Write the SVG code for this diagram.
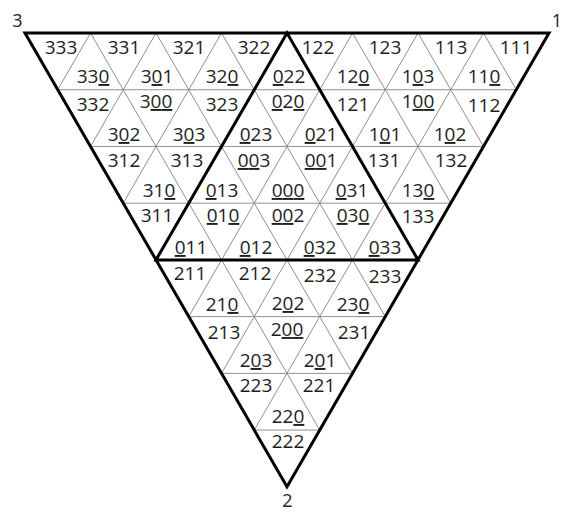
<svg xmlns="http://www.w3.org/2000/svg" width="563" height="512" viewBox="0 0 563 512">
<style>
.thin{stroke:#909090;stroke-width:1;fill:none}
.thick{stroke:#000;stroke-width:3;fill:none;stroke-linejoin:miter}
text{font-family:"Open Sans","Liberation Sans",sans-serif;font-size:19px;fill:#1e1e1e;text-anchor:middle}
.u{text-decoration:underline}
.v{font-size:18px}
</style>
<rect width="563" height="512" fill="#fff"/>
<g id="connectors">
<g id="grid">
<line class="thin" x1="57.75" y1="89.72" x2="516.25" y2="89.72"/>
<line class="thin" x1="90.5" y1="146.45" x2="483.5" y2="146.45"/>
<line class="thin" x1="123.25" y1="203.17" x2="450.75" y2="203.17"/>
<line class="thin" x1="188.75" y1="316.62" x2="385.25" y2="316.62"/>
<line class="thin" x1="221.5" y1="373.35" x2="352.5" y2="373.35"/>
<line class="thin" x1="254.25" y1="430.07" x2="319.75" y2="430.07"/>
<line class="thin" x1="90.5" y1="33" x2="319.75" y2="430.07"/>
<line class="thin" x1="156" y1="33" x2="352.5" y2="373.35"/>
<line class="thin" x1="221.5" y1="33" x2="385.25" y2="316.62"/>
<line class="thin" x1="352.5" y1="33" x2="450.75" y2="203.17"/>
<line class="thin" x1="418" y1="33" x2="483.5" y2="146.45"/>
<line class="thin" x1="483.5" y1="33" x2="516.25" y2="89.72"/>
<line class="thin" x1="90.5" y1="33" x2="57.75" y2="89.72"/>
<line class="thin" x1="156" y1="33" x2="90.5" y2="146.45"/>
<line class="thin" x1="221.5" y1="33" x2="123.25" y2="203.17"/>
<line class="thin" x1="352.5" y1="33" x2="188.75" y2="316.62"/>
<line class="thin" x1="418" y1="33" x2="221.5" y2="373.35"/>
<line class="thin" x1="483.5" y1="33" x2="254.25" y2="430.07"/>
</g>
<g id="outline">
<polygon class="thick" points="25,33 549,33 287,486.8"/>
<polygon class="thick" points="287,33 156,259.9 418,259.9"/>
</g>
</g>
<g id="vertex-labels">
<text class="v" x="17.5" y="27">3</text>
<text class="v" x="557" y="27">1</text>
<text class="v" x="287.5" y="507">2</text>
</g>
<g id="cells">
<g id="row0">
<text x="61" y="54">333</text>
<text x="124" y="54">331</text>
<text x="189" y="54">321</text>
<text x="254" y="54">322</text>
<text x="318" y="54">122</text>
<text x="385" y="54">123</text>
<text x="451" y="54">113</text>
<text x="516" y="54">111</text>
<text x="93" y="83">33<tspan class="u">0</tspan></text>
<text x="157" y="83">3<tspan class="u">0</tspan>1</text>
<text x="222" y="83">32<tspan class="u">0</tspan></text>
<text x="289" y="83"><tspan class="u">0</tspan>22</text>
<text x="353" y="83">12<tspan class="u">0</tspan></text>
<text x="418" y="83">1<tspan class="u">0</tspan>3</text>
<text x="484" y="83">11<tspan class="u">0</tspan></text>
</g>
<g id="row1">
<text x="93" y="111">332</text>
<text x="156" y="108">3<tspan class="u">0</tspan><tspan class="u">0</tspan></text>
<text x="222" y="111">323</text>
<text x="288" y="108"><tspan class="u">0</tspan>2<tspan class="u">0</tspan></text>
<text x="353" y="111">121</text>
<text x="418" y="108">1<tspan class="u">0</tspan><tspan class="u">0</tspan></text>
<text x="484" y="112">112</text>
<text x="124" y="141">3<tspan class="u">0</tspan>2</text>
<text x="189" y="141">3<tspan class="u">0</tspan>3</text>
<text x="256" y="141"><tspan class="u">0</tspan>23</text>
<text x="321" y="141"><tspan class="u">0</tspan>21</text>
<text x="385" y="141">1<tspan class="u">0</tspan>1</text>
<text x="450" y="141">1<tspan class="u">0</tspan>2</text>
</g>
<g id="row2">
<text x="124" y="167">312</text>
<text x="187" y="167">313</text>
<text x="254" y="167"><tspan class="u">0</tspan><tspan class="u">0</tspan>3</text>
<text x="321" y="167"><tspan class="u">0</tspan><tspan class="u">0</tspan>1</text>
<text x="384" y="167">131</text>
<text x="451" y="167">132</text>
<text x="159" y="197">31<tspan class="u">0</tspan></text>
<text x="222" y="197"><tspan class="u">0</tspan>13</text>
<text x="288" y="197"><tspan class="u">0</tspan><tspan class="u">0</tspan><tspan class="u">0</tspan></text>
<text x="352" y="197"><tspan class="u">0</tspan>31</text>
<text x="418" y="197">13<tspan class="u">0</tspan></text>
</g>
<g id="row3">
<text x="157" y="222">311</text>
<text x="223" y="222"><tspan class="u">0</tspan>1<tspan class="u">0</tspan></text>
<text x="288" y="222"><tspan class="u">0</tspan><tspan class="u">0</tspan>2</text>
<text x="353" y="222"><tspan class="u">0</tspan>3<tspan class="u">0</tspan></text>
<text x="418" y="223">133</text>
<text x="191" y="254"><tspan class="u">0</tspan>11</text>
<text x="256" y="254"><tspan class="u">0</tspan>12</text>
<text x="320" y="254"><tspan class="u">0</tspan>32</text>
<text x="385" y="254"><tspan class="u">0</tspan>33</text>
</g>
<g id="row4">
<text x="190" y="280">211</text>
<text x="255" y="280">212</text>
<text x="320" y="282">232</text>
<text x="385" y="283">233</text>
<text x="222" y="311">21<tspan class="u">0</tspan></text>
<text x="288" y="310">2<tspan class="u">0</tspan>2</text>
<text x="353" y="311">23<tspan class="u">0</tspan></text>
</g>
<g id="row5">
<text x="224" y="339">213</text>
<text x="287" y="336">2<tspan class="u">0</tspan><tspan class="u">0</tspan></text>
<text x="354" y="339">231</text>
<text x="256" y="367">2<tspan class="u">0</tspan>3</text>
<text x="320" y="367">2<tspan class="u">0</tspan>1</text>
</g>
<g id="row6">
<text x="256" y="392">223</text>
<text x="319" y="392">221</text>
<text x="288" y="423">22<tspan class="u">0</tspan></text>
</g>
<g id="row7">
<text x="288" y="448">222</text>
</g>
</g>
</svg>
